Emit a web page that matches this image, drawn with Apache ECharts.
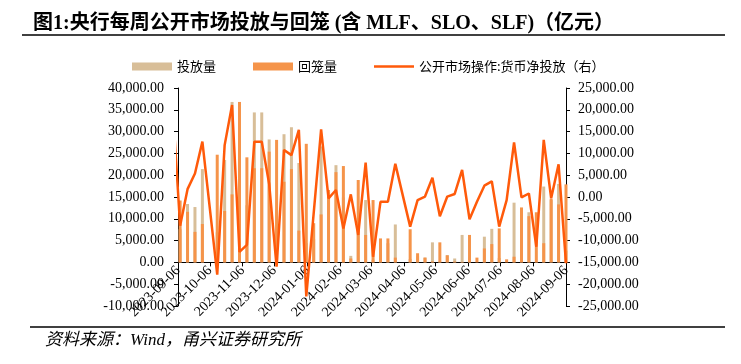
<!DOCTYPE html>
<html><head><meta charset="utf-8">
<script src="https://cdn.jsdelivr.net/npm/echarts@6/dist/echarts.min.js"></script>
<style>html,body{margin:0;padding:0;background:#fff}#c{width:741px;height:364px}</style>
</head><body><div id="c"></div>
<script>
// weekly dates (Fridays); first one lies before the axis start and is clipped
const dates = ['2023-09-01','2023-09-08','2023-09-15','2023-09-22','2023-09-29','2023-10-06','2023-10-13','2023-10-20','2023-10-27',
'2023-11-03','2023-11-10','2023-11-17','2023-11-24','2023-12-01','2023-12-08','2023-12-15','2023-12-22','2023-12-29',
'2024-01-05','2024-01-12','2024-01-19','2024-01-26','2024-02-02','2024-02-09','2024-02-16','2024-02-23',
'2024-03-01','2024-03-08','2024-03-15','2024-03-22','2024-03-29','2024-04-05','2024-04-12','2024-04-19','2024-04-26',
'2024-05-03','2024-05-10','2024-05-17','2024-05-24','2024-05-31','2024-06-07','2024-06-14','2024-06-21','2024-06-28',
'2024-07-05','2024-07-12','2024-07-19','2024-07-26','2024-08-02','2024-08-09','2024-08-16','2024-08-23','2024-08-30','2024-09-06'];
const supply = [null,7600,13400,12700,21400,null,6900,23500,36800,
24200,13100,34400,34400,28200,12100,29400,31000,22800,
4400,5300,26600,16300,22300,14900,1500,10200,
14300,600,4400,4400,8700,null,800,1400,1100,
4600,200,1700,900,6300,1200,0,5900,7700,
1000,0,13700,12500,11500,100,17400,14300,18000,2700];
const withdraw = [null,14200,11600,7000,8800,null,24700,11800,15600,
36800,24100,21600,21600,25400,28100,18500,21400,7300,
27200,9000,11000,16600,20700,22100,900,18900,
6300,14300,5500,5500,1100,null,7600,2100,1100,
200,4600,1600,200,100,6300,1100,3200,4200,
7800,700,1300,12600,10600,11500,4400,14600,13300,17900];
const netInjection = [20700,-6600,1800,5400,12700,null,-17800,11900,21100,
-12600,-11000,12700,12700,3000,-16000,10800,9600,15400,
-22800,-3700,15500,-300,1600,-7200,600,-8700,
7900,-13700,-1100,-1100,7600,null,-6800,-700,100,
4400,-4400,100,700,6200,-5100,-1100,2600,3600,
-6800,-700,12500,-100,800,-11400,13100,-300,7500,-15200];
const xTickLabels = ['2023-09-06','2023-10-06','2023-11-06','2023-12-06','2024-01-06','2024-02-06','2024-03-06',
'2024-04-06','2024-05-06','2024-06-06','2024-07-06','2024-08-06','2024-09-06'];

const base = Date.UTC(2023,8,6);
function dayOf(s){const p=s.split('-').map(Number);return Math.round((Date.UTC(p[0],p[1]-1,p[2])-base)/86400000);}
const tickDays = xTickLabels.map(dayOf);
function pairs(arr){const out=[];arr.forEach((v,i)=>{if(v!==null)out.push([dayOf(dates[i]),v]);});return out;}
function fmt(v){return Number(v).toLocaleString('en-US',{minimumFractionDigits:2,maximumFractionDigits:2});}

const gridH = 218;
const leftMin = -10000, leftMax = 40000;
const chart = echarts.init(document.getElementById('c'));
const serif = "'Liberation Serif','Times New Roman',serif";
const cjk = "'Noto Sans CJK SC',sans-serif";
chart.setOption({
  animation:false,
  backgroundColor:'#fff',
  title:{text:'图1:央行每周公开市场投放与回笼 (含 MLF、SLO、SLF)（亿元）',left:28,top:9,
    textStyle:{fontSize:20,fontWeight:'bold',color:'#000',fontFamily:"'Liberation Serif','Noto Sans CJK SC',serif"}},
  legend:{left:127,top:55,itemWidth:40,itemHeight:8,itemGap:37,
    textStyle:{fontSize:13,color:'#000',fontFamily:cjk},
    data:[{name:'投放量',icon:'rect'},{name:'回笼量',icon:'rect'},
      {name:'公开市场操作:货币净投放（右）',icon:'path://M0,0h40v0.01h-40z M0,2.75h40v2.5h-40z M0,7.99h40v0.01h-40z'}]},
  grid:{left:178,top:88,width:388,height:gridH},
  xAxis:{type:'value',min:0,max:366,position:'bottom',offset:-gridH*(0-leftMin)/(leftMax-leftMin),
    axisLine:{onZero:false,lineStyle:{color:'#000',width:1}},
    axisTick:{show:true,customValues:tickDays,length:4,lineStyle:{color:'#000'}},
    axisLabel:{customValues:tickDays,rotate:45,margin:6,fontSize:14,color:'#000',fontFamily:serif,
      formatter:function(v){const i=tickDays.indexOf(Math.round(v));return i>=0?xTickLabels[i]:'';}},
    splitLine:{show:false}},
  yAxis:[
    {type:'value',min:leftMin,max:leftMax,interval:5000,
     axisLine:{show:true,lineStyle:{color:'#000'}},axisTick:{show:true,length:4,lineStyle:{color:'#000'}},
     axisLabel:{formatter:fmt,fontSize:14,color:'#000',fontFamily:serif,margin:14},splitLine:{show:false}},
    {type:'value',min:-25000,max:25000,interval:5000,position:'right',
     axisLine:{show:true,lineStyle:{color:'#000'}},axisTick:{show:true,length:4,lineStyle:{color:'#000'}},
     axisLabel:{formatter:fmt,fontSize:14,color:'#000',fontFamily:serif,margin:12},splitLine:{show:false}}
  ],
  graphic:[
    {type:'line',shape:{x1:22,y1:35,x2:725,y2:35},style:{stroke:'#000',lineWidth:1.5}},
    {type:'line',shape:{x1:30,y1:327,x2:725,y2:327},style:{stroke:'#000',lineWidth:1.5}},
    {type:'text',left:45,top:332,style:{text:'资料来源：Wind，甬兴证券研究所',fill:'#000',
      font:"italic 17px 'Liberation Serif','Noto Sans CJK SC',serif"}}
  ],
  series:[
    {name:'投放量',type:'bar',data:pairs(supply),barWidth:3,barGap:'-100%',itemStyle:{color:'#D8BE98'}},
    {name:'回笼量',type:'bar',data:pairs(withdraw),barWidth:3,barGap:'-100%',itemStyle:{color:'#F5944A'}},
    {name:'公开市场操作:货币净投放（右）',type:'line',yAxisIndex:1,data:pairs(netInjection),symbol:'none',
     connectNulls:true,clip:true,z:5,lineStyle:{width:2.5,color:'#FF5A0A'},itemStyle:{color:'#FF5A0A'}}
  ]
});
</script></body></html>
